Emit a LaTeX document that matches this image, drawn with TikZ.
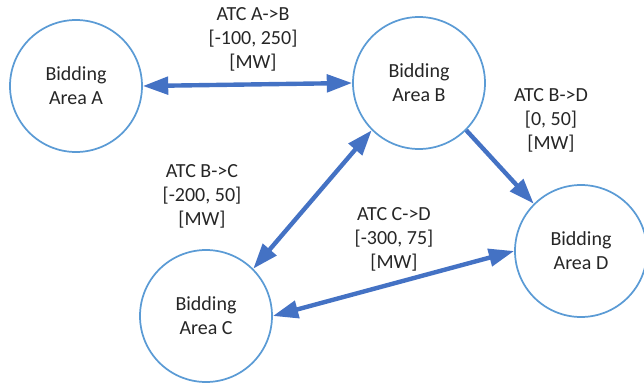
\documentclass[tikz,border=0pt]{standalone}
\usepackage{fontspec}
\setmainfont{Carlito}
\usepackage{xcolor}
\usepackage{tikz}
\usetikzlibrary{arrows.meta}

\definecolor{ringblue}{HTML}{5B9BD5}
\definecolor{linkblue}{HTML}{4472C4}
\definecolor{textgray}{HTML}{262626}

\tikzset{
  area/.style={circle,draw=ringblue,line width=1.3pt,minimum size=99pt,inner sep=0pt,
    align=center,text=textgray,font=\fontsize{15}{18}\selectfont},
  atc/.style={align=center,text=textgray,font=\fontsize{15}{18}\selectfont},
  link/.style={draw=linkblue,line width=3.3pt,
    {Triangle[length=19pt,width=13pt]}-{Triangle[length=19pt,width=13pt]}},
  flow/.style={draw=linkblue,line width=3.3pt,-{Triangle[length=19pt,width=13pt]}}
}

\begin{document}
\begin{tikzpicture}[x=0.75pt,y=-0.75pt]
            \useasboundingbox (0,0) rectangle (644,386);

            % bidding areas
            \node[area] (A) at (76,86) {Bidding\\Area A};
            \node[area] (B) at (419,83) {Bidding\\Area B};
            \node[area] (C) at (206,316) {Bidding\\Area C};
            \node[area] (D) at (581,251) {Bidding\\Area D};

            % transfer capacities
            \draw[link] (A.east) -- (B.west);
            \draw[link] (B.225) -- (C.45);
            \draw[flow] (B.-45) -- (D.135);
            \draw[link] (C.east) -- (D.west);

            \node[atc] (AB) at (253,39) {ATC A->B\\{}[-100, 250]\\{}[MW]};
            \node[atc] (BD) at (551,120) {ATC B->D\\{}[0, 50]\\{}[MW]};
            \node[atc] (BC) at (202,196) {ATC B->C\\{}[-200, 50]\\{}[MW]};
            \node[atc] (CD) at (394,239) {ATC C->D\\{}[-300, 75]\\{}[MW]};
        \end{tikzpicture}
\end{document}
